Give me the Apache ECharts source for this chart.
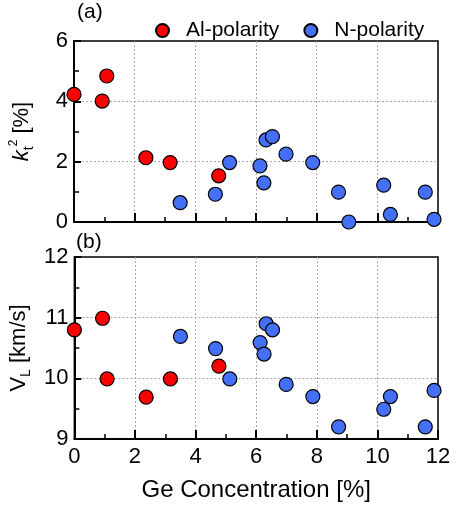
<!DOCTYPE html>
<html>
<head>
<meta charset="utf-8">
<script src="https://cdn.jsdelivr.net/npm/echarts@6/dist/echarts.min.js"></script>
<style>html,body{margin:0;padding:0;background:#fff}#c{width:456px;height:509px}</style>
</head>
<body>
<div id="c"></div>
<script>
// Data
const geAl = [0, 0.93, 1.08, 2.37, 3.17, 4.77];
const ktAl = [4.23, 4.01, 4.84, 2.13, 1.97, 1.53];
const vlAl = [10.80, 10.99, 9.99, 9.69, 9.99, 10.20];

const geN = [3.5, 4.66, 5.13, 6.13, 6.26, 6.33, 6.54, 6.99, 7.87, 8.72, 9.06, 10.21, 10.43, 11.58, 11.87];
const ktN = [0.64, 0.92, 1.97, 1.86, 1.30, 2.72, 2.83, 2.25, 1.97, 0.99, 0.0, 1.22, 0.25, 0.99, 0.09];
const vlN = [10.69, 10.49, 9.99, 10.59, 10.40, 10.90, 10.80, 9.90, 9.70, 9.20, null, 9.49, 9.70, 9.20, 9.80];

const xTicks = [0, 2, 4, 6, 8, 10, 12];

function pairs(xs, ys) {
  const out = [];
  xs.forEach((x, i) => { if (ys[i] !== null && ys[i] !== undefined) out.push([x, ys[i]]); });
  return out;
}

const FONT = 'Liberation Sans';
const RED = '#ff0000';
const BLUE = '#4470f8';

const chart = echarts.init(document.getElementById('c'), null, {renderer: 'canvas'});

const splitCfg = {show: true, showMinLine: false, showMaxLine: false, lineStyle: {color: '#aaa', type: [2, 2], width: 1}};

function xAxisCfg(gridIndex, showLabels) {
  return {
    type: 'value', gridIndex: gridIndex, min: 0, max: 12, interval: 2,
    axisLine: {show: true, onZero: false, lineStyle: {color: '#000', width: 2}},
    axisTick: {show: true, inside: true, length: 9, lineStyle: {color: '#000', width: 2}},
    minorTick: {show: true, splitNumber: 2, length: 5, lineStyle: {color: '#000', width: 1.5}},
    splitLine: splitCfg,
    axisLabel: {show: showLabels, color: '#000', fontFamily: FONT, fontSize: 22, margin: 7,
      formatter: v => xTicks.includes(v) ? String(v) : ''},
    name: showLabels ? 'Ge Concentration [%]' : '',
    nameLocation: 'middle', nameGap: 39,
    nameTextStyle: {color: '#000', fontFamily: FONT, fontSize: 24}
  };
}

function yAxisCfg(gridIndex, min, max, interval, name, rich) {
  return {
    type: 'value', gridIndex: gridIndex, min: min, max: max, interval: interval,
    axisLine: {show: true, onZero: false, lineStyle: {color: '#000', width: 2}},
    axisTick: {show: true, inside: true, length: 7, lineStyle: {color: '#000', width: 2}},
    minorTick: {show: true, splitNumber: 2, length: 5, lineStyle: {color: '#000', width: 1.5}},
    splitLine: splitCfg,
    axisLabel: {color: '#000', fontFamily: FONT, fontSize: 22, margin: 6},
    name: name, nameLocation: 'middle', nameGap: 38,
    nameTextStyle: {color: '#000', fontFamily: FONT, fontSize: 22, rich: rich}
  };
}

const richK = {
  k: {fontFamily: FONT, fontSize: 22, fontStyle: 'italic', lineHeight: 28, color: '#000'},
  t: {fontFamily: FONT, fontSize: 14, lineHeight: 12, verticalAlign: 'bottom', color: '#000'},
  s: {fontFamily: FONT, fontSize: 12, lineHeight: 12, verticalAlign: 'top', color: '#000'},
  n: {fontFamily: FONT, fontSize: 22, lineHeight: 28, color: '#000'}
};
const richV = {
  v: {fontFamily: FONT, fontSize: 22, lineHeight: 28, color: '#000'},
  l: {fontFamily: FONT, fontSize: 14, lineHeight: 12, verticalAlign: 'bottom', color: '#000'},
  n: {fontFamily: FONT, fontSize: 22, lineHeight: 28, color: '#000'}
};

function scatter(name, data, xi, yi, color) {
  return {
    type: 'scatter', name: name, xAxisIndex: xi, yAxisIndex: yi, data: data,
    symbol: 'circle', symbolSize: 14, clip: false,
    itemStyle: {color: color, borderColor: '#000', borderWidth: 1.2, opacity: 1},
    emphasis: {disabled: true}
  };
}

chart.setOption({
  animation: false,
  backgroundColor: '#fff',
  legend: {
    left: 150, top: 15, itemWidth: 13, itemHeight: 13, itemGap: 24,
    icon: 'circle',
    textStyle: {color: '#000', fontFamily: FONT, fontSize: 21, padding: [0, 0, 0, 12]},
    data: ['Al-polarity', 'N-polarity']
  },
  grid: [
    {left: 74, top: 41, width: 364, height: 181, show: true, borderColor: '#000', borderWidth: 1.5, backgroundColor: 'transparent'},
    {left: 74, top: 257, width: 364, height: 182, show: true, borderColor: '#000', borderWidth: 1.5, backgroundColor: 'transparent'}
  ],
  xAxis: [xAxisCfg(0, false), xAxisCfg(1, true)],
  yAxis: [
    yAxisCfg(0, 0, 6, 2, '{k|k}{t|t}{s|2}{n| [%]}', richK),
    yAxisCfg(1, 9, 12, 1, '{v|V}{l|L}{n| [km/s]}', richV)
  ],
  graphic: [
    {type: 'text', left: 77, top: 2, style: {text: '(a)', fontFamily: FONT, fontSize: 21, fill: '#000'}},
    {type: 'text', left: 76, top: 232, style: {text: '(b)', fontFamily: FONT, fontSize: 21, fill: '#000'}}
  ],
  series: [
    scatter('Al-polarity', pairs(geAl, ktAl), 0, 0, RED),
    scatter('N-polarity', pairs(geN, ktN), 0, 0, BLUE),
    scatter('Al-polarity', pairs(geAl, vlAl), 1, 1, RED),
    scatter('N-polarity', pairs(geN, vlN), 1, 1, BLUE)
  ]
});
</script>
</body>
</html>
